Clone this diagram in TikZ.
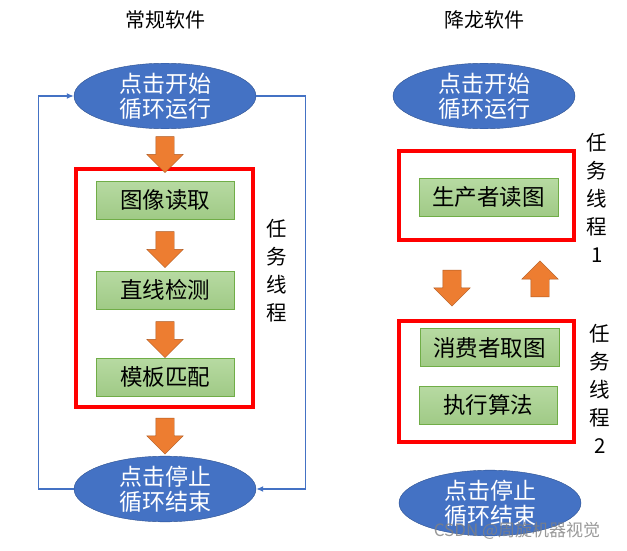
\documentclass[tikz,border=0pt]{standalone}
\usepackage{fontspec}
\setmainfont{Noto Sans CJK SC}
\usetikzlibrary{shapes.geometric,shapes.arrows,positioning,arrows.meta}
\definecolor{ovalblue}{HTML}{4472C4}
\definecolor{ovalline}{HTML}{2F528F}
\definecolor{steptop}{HTML}{B7DAA2}
\definecolor{stepbottom}{HTML}{A0CA86}
\definecolor{stepline}{HTML}{70AD47}
\definecolor{arroworange}{HTML}{ED7D31}
\definecolor{arrowline}{HTML}{AE5A21}
\tikzset{
  oval/.style={ellipse, fill=ovalblue, draw=ovalline, minimum width=182pt, minimum height=58pt,
    inner sep=0pt, text=white, align=center, font=\fontsize{23}{25}\selectfont},
  stepbox/.style={rectangle, top color=steptop, bottom color=stepbottom, draw=stepline,
    minimum width=138pt, minimum height=38pt, inner sep=0pt, font=\fontsize{22.5}{24}\selectfont},
  taskframe/.style={rectangle, draw=red, line width=4pt, inner sep=0pt},
  blockarrow/.style={single arrow, fill=arroworange, draw=arrowline, minimum height=36pt,
    single arrow head extend=9pt, inner xsep=0pt, inner ysep=9pt, text height=0pt, text depth=0pt},
  looplink/.style={draw=ovalblue, line width=1.3pt, -{Latex[length=7pt,width=6pt]}},
  tasklabel/.style={align=center, font=\fontsize{20.5}{28}\selectfont},
  title/.style={font=\fontsize{20}{24}\selectfont}
}
\begin{document}
\begin{tikzpicture}[x=1pt,y=-1pt]
\useasboundingbox (0,0) rectangle (627,551);
% left: usual software
\node[title] (titleA) at (165,20) {常规软件};
\node[oval] (startA) at (165,96) {点击开始\\循环运行};
\node[taskframe, minimum width=177pt, minimum height=238pt] (frameA) at (164.5,288) {};
\node[stepbox] (readA) at (165,200) {图像读取};
\node[stepbox] (lineA) at (165,290) {直线检测};
\node[stepbox] (matchA) at (165,377) {模板匹配};
\node[oval] (stopA) at (165,489) {点击停止\\循环结束};
\node[blockarrow, rotate=-90] (a1) at (165,150) {};
\node[blockarrow, rotate=-90] (a2) at (165,245) {};
\node[blockarrow, rotate=-90] (a3) at (165,335) {};
\node[blockarrow, rotate=-90] (a4) at (165,431.5) {};
\node[tasklabel] (taskA) at (277,271) {任\\务\\线\\程};
\draw[looplink] (stopA.west) -- ++(-35,0) |- (startA.west);
\draw[looplink] (startA.east) -- ++(49,0) |- (stopA.east);
% right: xianglong software
\node[title] (titleB) at (484,20) {降龙软件};
\node[oval] (startB) at (484,96) {点击开始\\循环运行};
\node[taskframe, minimum width=175pt, minimum height=89pt] (frameB) at (486.5,195.5) {};
\node[stepbox, minimum width=139pt] (produceB) at (488.5,197.5) {生产者读图};
\node[tasklabel] (taskB) at (597,198) {任\\务\\线\\程\\1};
\node[blockarrow, rotate=-90] (b1) at (452,283.5) {};
\node[blockarrow, rotate=90] (b2) at (540,283.5) {};
\node[taskframe, minimum width=175pt, minimum height=121pt] (frameC) at (486.5,381.5) {};
\node[stepbox, minimum width=139pt] (consumeB) at (489.5,347.5) {消费者取图};
\node[stepbox] (algoB) at (488,405) {执行算法};
\node[tasklabel] (taskC) at (600,389) {任\\务\\线\\程\\2};
\node[oval, minimum height=56pt] (stopB) at (490,503) {点击停止\\循环结束};
\node[text=gray, opacity=0.8, font=\fontsize{17}{20}\selectfont] (mark) at (517,531) {CSDN @周旋机器视觉};
\end{tikzpicture}
\end{document}
